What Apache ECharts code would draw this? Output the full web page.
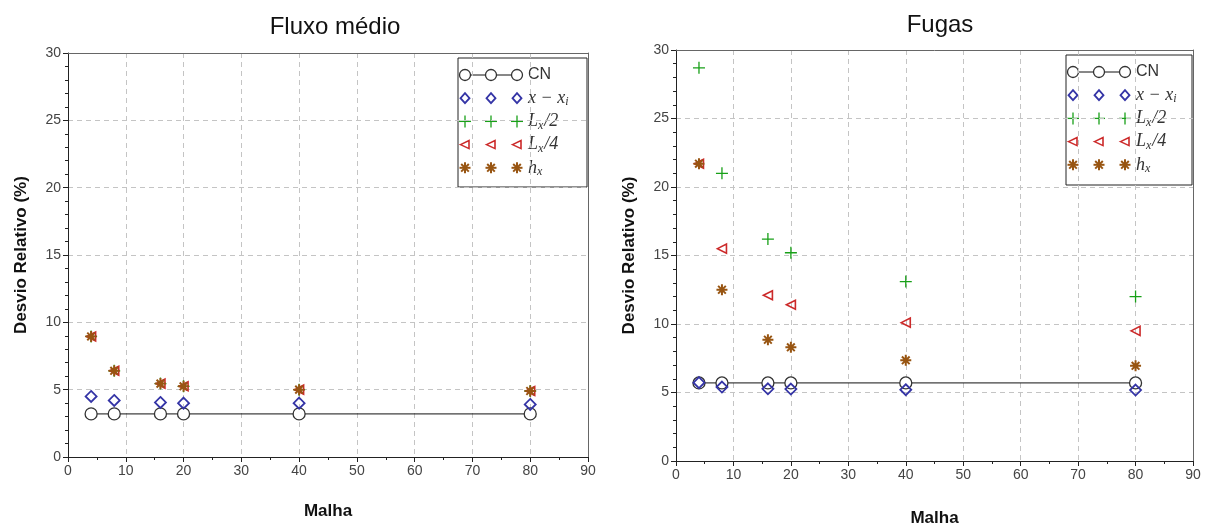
<!DOCTYPE html>
<html>
<head>
<meta charset="utf-8">
<script src="https://cdn.jsdelivr.net/npm/echarts@6/dist/echarts.min.js"></script>
<style>
  html, body { margin: 0; padding: 0; background: #fff; }
  #main { width: 1215px; height: 524px; }
</style>
</head>
<body>
<div id="main"></div>
<script>
// malhas (eixo x)
var malha = [4, 8, 16, 20, 40, 80];

// Fluxo médio
var fluxoCN = [3.2, 3.2, 3.2, 3.2, 3.2, 3.2];
var fluxoXi = [4.5, 4.2, 4.05, 4.0, 4.0, 3.9];
var fluxoL2 = [8.95, 6.4, 5.45, 5.25, 5.0, 4.9];
var fluxoL4 = [8.95, 6.4, 5.45, 5.25, 5.0, 4.9];
var fluxoH  = [8.95, 6.4, 5.45, 5.25, 5.0, 4.9];

// Fugas
var fugasCN = [5.7, 5.7, 5.7, 5.7, 5.7, 5.7];
var fugasXi = [5.72, 5.4, 5.27, 5.25, 5.2, 5.18];
var fugasL2 = [28.7, 21.0, 16.2, 15.2, 13.1, 12.0];
var fugasL4 = [21.7, 15.5, 12.1, 11.4, 10.1, 9.5];
var fugasH  = [21.7, 12.5, 8.85, 8.3, 7.35, 6.95];

var titulos = ['Fluxo médio', 'Fugas'];

var cores = {cn: '#333333', xi: '#3434a6', l2: '#18a018', l4: '#cc2a2a', h: '#985512'};

function pares(ys) {
    return malha.map(function (x, i) { return [x, ys[i]]; });
}

var grids = [
    {left: 68, top: 53, width: 520, height: 404, outerBoundsMode: 'none', containLabel: false},
    {left: 676, top: 50, width: 517, height: 411, outerBoundsMode: 'none', containLabel: false}
];
var gapMalha = [46, 49];

var labelStyle = {color: '#444', fontSize: 14, fontFamily: 'Liberation Sans', margin: 7};
var nameStyle = {color: '#111', fontSize: 17, fontWeight: 'bold', fontFamily: 'Liberation Sans'};

var xAxes = [], yAxes = [];
grids.forEach(function (g, k) {
    xAxes.push({
        gridIndex: k, type: 'value', min: 0, max: 90, interval: 10,
        name: 'Malha', nameLocation: 'middle', nameGap: gapMalha[k], nameTextStyle: nameStyle,
        axisLine: {lineStyle: {color: '#222'}},
        axisTick: {length: 5, lineStyle: {color: '#222'}},
        minorTick: {show: true, splitNumber: 2, length: 3, lineStyle: {color: '#222'}},
        axisLabel: labelStyle,
        splitLine: {show: true, lineStyle: {color: '#c4c4c4', type: [5, 4]}}
    });
    xAxes.push({
        gridIndex: k, type: 'value', position: 'top', min: 0, max: 90, interval: 10,
        axisLine: {show: true, onZero: false, lineStyle: {color: '#666'}},
        axisTick: {show: false}, axisLabel: {show: false}, splitLine: {show: false}
    });
    yAxes.push({
        gridIndex: k, type: 'value', min: 0, max: 30, interval: 5,
        name: 'Desvio Relativo (%)', nameLocation: 'middle', nameGap: 38, nameTextStyle: nameStyle,
        axisLine: {show: true, lineStyle: {color: '#222'}},
        axisTick: {show: true, length: 5, lineStyle: {color: '#222'}},
        minorTick: {show: true, splitNumber: 5, length: 3, lineStyle: {color: '#222'}},
        axisLabel: labelStyle,
        splitLine: {show: true, lineStyle: {color: '#c4c4c4', type: [5, 4]}}
    });
    yAxes.push({
        gridIndex: k, type: 'value', position: 'right', min: 0, max: 30, interval: 5,
        axisLine: {show: true, onZero: false, lineStyle: {color: '#666'}},
        axisTick: {show: false}, axisLabel: {show: false}, splitLine: {show: false}
    });
});

// simbolos
var symPlus = 'path://M0,5L10,5M5,0L5,10';
var symTri = 'path://M0,5L10,0L10,10Z';
var symStar = 'path://M0,5L10,5M5,0L5,10M1.5,1.5L8.5,8.5M8.5,1.5L1.5,8.5';

function montaSeries(k, cn, xi, l2, l4, h) {
    var base = {type: 'scatter', xAxisIndex: 2 * k, yAxisIndex: 2 * k, z: 3};
    return [
        {type: 'line', xAxisIndex: 2 * k, yAxisIndex: 2 * k, z: 2, data: pares(cn), symbol: 'circle', symbolSize: 12,
         lineStyle: {color: '#111', width: 1},
         itemStyle: {color: '#fff', borderColor: cores.cn, borderWidth: 1.3}},
        Object.assign({}, base, {data: pares(xi), symbol: 'diamond', symbolSize: 11,
         itemStyle: {color: 'rgba(255,255,255,0)', opacity: 1, borderColor: cores.xi, borderWidth: 1.8}}),
        Object.assign({}, base, {data: pares(l2), symbol: symPlus, symbolSize: 12,
         itemStyle: {color: 'rgba(255,255,255,0)', opacity: 1, borderColor: cores.l2, borderWidth: 1.3}}),
        Object.assign({}, base, {data: pares(l4), symbol: symTri, symbolSize: [9, 9],
         itemStyle: {color: 'rgba(255,255,255,0)', opacity: 1, borderColor: cores.l4, borderWidth: 1.6}}),
        Object.assign({}, base, {data: pares(h), symbol: symStar, symbolSize: 11,
         itemStyle: {color: 'rgba(255,255,255,0)', opacity: 1, borderColor: cores.h, borderWidth: 2}})
    ];
}

var series = montaSeries(0, fluxoCN, fluxoXi, fluxoL2, fluxoL4, fluxoH)
    .concat(montaSeries(1, fugasCN, fugasXi, fugasL2, fugasL4, fugasH));

// legenda desenhada a mao (3 simbolos por linha, como no original)
function traco(x1, y1, x2, y2, cor, w) {
    return {type: 'line', shape: {x1: x1, y1: y1, x2: x2, y2: y2}, style: {stroke: cor, lineWidth: w}};
}

function marcador(tipo, cx, cy) {
    if (tipo === 'cn') {
        return [{type: 'circle', shape: {cx: cx, cy: cy, r: 5.5}, style: {fill: '#fff', stroke: cores.cn, lineWidth: 1.3}}];
    }
    if (tipo === 'xi') {
        return [{type: 'polygon', shape: {points: [[cx, cy - 5], [cx + 4.5, cy], [cx, cy + 5], [cx - 4.5, cy]]},
                style: {fill: 'none', stroke: cores.xi, lineWidth: 1.8}}];
    }
    if (tipo === 'l2') {
        return [traco(cx - 6, cy, cx + 6, cy, cores.l2, 1.3), traco(cx, cy - 6, cx, cy + 6, cores.l2, 1.3)];
    }
    if (tipo === 'l4') {
        return [{type: 'polygon', shape: {points: [[cx - 4.5, cy], [cx + 4, cy - 4], [cx + 4, cy + 4]]},
                style: {fill: 'none', stroke: cores.l4, lineWidth: 1.6}}];
    }
    return [traco(cx - 5.5, cy, cx + 5.5, cy, cores.h, 2), traco(cx, cy - 5.5, cx, cy + 5.5, cores.h, 2),
            traco(cx - 3.8, cy - 3.8, cx + 3.8, cy + 3.8, cores.h, 2),
            traco(cx + 3.8, cy - 3.8, cx - 3.8, cy + 3.8, cores.h, 2)];
}

var legendas = [
    {tipo: 'cn', texto: 'CN', rich: false},
    {tipo: 'xi', texto: '{m|x − x}{s|i}', rich: true},
    {tipo: 'l2', texto: '{m|L}{s|x}{m|/2}', rich: true},
    {tipo: 'l4', texto: '{m|L}{s|x}{m|/4}', rich: true},
    {tipo: 'h',  texto: '{m|h}{s|x}', rich: true}
];

var richMath = {
    m: {fontFamily: 'Liberation Serif', fontStyle: 'italic', fontSize: 18, color: '#555', lineHeight: 20, verticalAlign: 'middle'},
    s: {fontFamily: 'Liberation Serif', fontStyle: 'italic', fontSize: 12, color: '#555', lineHeight: 20,
        verticalAlign: 'bottom', padding: [0, 1, 0, 0]}
};

function montaLegenda(x0, y0, w, h, xm) {
    var filhos = [{type: 'rect', shape: {x: x0, y: y0, width: w, height: h},
                   style: {fill: '#fff', stroke: '#222', lineWidth: 1}}];
    legendas.forEach(function (l, i) {
        var cy = y0 + 17 + i * 23.2;
        var xs = [xm, xm + 26, xm + 52];
        if (l.tipo === 'cn') {
            filhos.push(traco(xs[0], cy, xs[2], cy, '#111', 1));
        }
        xs.forEach(function (cx) { filhos = filhos.concat(marcador(l.tipo, cx, cy)); });
        var txt = {type: 'text', x: xm + 63, y: cy, style: {text: l.texto, fill: '#333', fontSize: 16,
                   fontFamily: 'Liberation Sans', verticalAlign: 'middle'}};
        if (l.rich) { txt.style.rich = richMath; }
        filhos.push(txt);
    });
    return {type: 'group', z: 100, children: filhos};
}

var option = {
    animation: false,
    backgroundColor: '#fff',
    title: [
        {text: titulos[0], left: 330, top: 10, textAlign: 'center',
         textStyle: {fontSize: 24, fontWeight: 'normal', color: '#111', fontFamily: 'Liberation Sans'}},
        {text: titulos[1], left: 935, top: 8, textAlign: 'center',
         textStyle: {fontSize: 24, fontWeight: 'normal', color: '#111', fontFamily: 'Liberation Sans'}}
    ],
    grid: grids,
    xAxis: xAxes,
    yAxis: yAxes,
    series: series,
    graphic: [montaLegenda(458, 58, 129, 129, 465), montaLegenda(1066, 55, 126, 130, 1073)]
};

var myChart = echarts.init(document.getElementById('main'));
myChart.setOption(option);
</script>
</body>
</html>
